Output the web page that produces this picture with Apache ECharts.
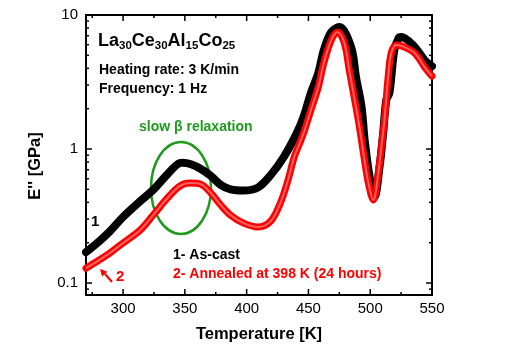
<!DOCTYPE html>
<html>
<head>
<meta charset="utf-8">
<script src="https://cdn.jsdelivr.net/npm/echarts@6/dist/echarts.min.js"></script>
<style>
  body { margin: 0; background: #fff; }
  #chart { width: 519px; height: 354px; }
</style>
</head>
<body>
<div id="chart"></div>
<script>
// 1- As-cast (black)
let tempAsCast = [270, 281, 289.5, 300, 314, 325, 336, 346, 348, 355, 363, 371, 379, 387, 397.5, 409, 419.5, 430, 440, 446, 452, 458, 462.5, 468.5, 475,
    484.5, 488.5, 493, 495.5, 499.5, 503.5, 507.5, 510.5, 513, 515.5, 519.5, 523, 525, 536, 544, 550];
let eAsCast = [0.170, 0.206, 0.244, 0.311, 0.409, 0.502, 0.650, 0.787, 0.79, 0.77, 0.71, 0.63, 0.54, 0.50, 0.49, 0.515, 0.64, 0.87, 1.28, 1.73, 2.62, 3.69, 5.48, 7.46, 8.13,
    5.77, 3.44, 2.06, 1.17, 0.62, 0.44, 0.73, 1.32, 2.32, 2.62, 5.48, 6.73, 6.85, 5.77, 4.61, 4.15];

// 2- Annealed at 398 K (red)
let tempAnnealed = [270, 281, 289.5, 300, 314, 325, 336, 346, 354.5, 362.5, 371, 379, 387, 397.5, 409, 419.5, 427.5, 433.5, 438.5, 444, 447, 452, 458, 462.5, 468.5, 473.5,
    479, 483, 487, 491, 495, 498.5, 502.5, 506.5, 509, 511.5, 514.5, 517, 521, 525.5, 536, 544, 550];
let eAnnealed = [0.129, 0.149, 0.168, 0.199, 0.249, 0.327, 0.431, 0.53, 0.557, 0.548, 0.47, 0.382, 0.321, 0.28, 0.262, 0.29, 0.40, 0.587, 0.87, 1.17, 1.39, 1.95, 2.90, 4.39, 6.5, 7.47,
    6.18, 3.89, 2.44, 1.51, 0.87, 0.557, 0.416, 0.66, 1.03, 1.64, 3.44, 5.2, 5.97, 5.87, 5.2, 4.09, 3.5];

let xMajor = [300, 350, 400, 450, 500, 550];
let xMinor = [275, 325, 375, 425, 475, 525];
let yMajor = [0.1, 1, 10];
let yMinor = [0.09, 0.2, 0.3, 0.4, 0.5, 0.6, 0.7, 0.8, 0.9, 2, 3, 4, 5, 6, 7, 8, 9];

let xMin = 270, xMax = 550, yMin = 0.0814, yMax = 10;

function pairs(xs, ys) {
    let out = [];
    for (let i = 0; i < xs.length; i++) out.push([xs[i], ys[i]]);
    return out;
}

// inward tick marks on all four sides, as small rect symbols placed on the axes
let tickData = [];
function addX(vals, len) {
    vals.forEach(function (v) {
        tickData.push({ value: [v, yMin], symbolSize: [1.5, len], symbolOffset: [0, -len / 2] });
        tickData.push({ value: [v, yMax], symbolSize: [1.5, len], symbolOffset: [0, len / 2] });
    });
}
function addY(vals, len) {
    vals.forEach(function (v) {
        tickData.push({ value: [xMin, v], symbolSize: [len, 1.5], symbolOffset: [len / 2, 0] });
        tickData.push({ value: [xMax, v], symbolSize: [len, 1.5], symbolOffset: [-len / 2, 0] });
    });
}
addX(xMajor, 6);
addX(xMinor, 3);
addY(yMajor, 6);
addY(yMinor, 3);

let font = 'Liberation Sans, Arial, sans-serif';

let option = {
    backgroundColor: '#fff',
    animation: false,
    grid: { left: 86, right: 87, top: 15, bottom: 59, show: true, borderColor: '#000', borderWidth: 2, backgroundColor: 'transparent' },
    xAxis: {
        type: 'value', min: xMin, max: xMax,
        axisLine: { show: true, onZero: false, lineStyle: { color: '#000', width: 2 } },
        axisTick: { show: false },
        axisLabel: { customValues: xMajor, color: '#000', fontSize: 15, fontFamily: font, margin: 6 },
        splitLine: { show: false },
        name: 'Temperature [K]', nameLocation: 'middle', nameGap: 31,
        nameTextStyle: { color: '#000', fontSize: 16.5, fontWeight: 'bold', fontFamily: font }
    },
    yAxis: {
        type: 'log', logBase: 10, min: yMin, max: yMax,
        axisLine: { show: true, onZero: false, lineStyle: { color: '#000', width: 2 } },
        axisTick: { show: false },
        axisLabel: { customValues: yMajor, color: '#000', fontSize: 15, fontFamily: font, margin: 8,
            formatter: function (v) { return String(Math.round(v * 10) / 10); } },
        splitLine: { show: false },
        name: "E'' [GPa]", nameLocation: 'middle', nameGap: 42, nameRotate: 90,
        nameTextStyle: { color: '#000', fontSize: 16.5, fontWeight: 'bold', fontFamily: font, padding: [0, 0, 0, -22] }
    },
    series: [
        {
            name: '1- As-cast', type: 'line', data: pairs(tempAsCast, eAsCast),
            smooth: 0.35, symbol: 'none',
            lineStyle: { color: '#000', width: 8, cap: 'round', join: 'round' }
        },
        {
            name: '2- Annealed at 398 K (24 hours)', type: 'line', data: pairs(tempAnnealed, eAnnealed),
            smooth: 0.35, symbol: 'none',
            lineStyle: { color: '#ff0000', width: 7, cap: 'round', join: 'round' }
        },
        {
            type: 'line', data: pairs(tempAnnealed, eAnnealed),
            smooth: 0.35, symbol: 'none', silent: true,
            lineStyle: { color: '#ff8c8c', width: 2, opacity: 0.7 }
        },
        {
            type: 'scatter', data: tickData, symbol: 'rect', clip: false, silent: true, z: 10,
            itemStyle: { color: '#000', borderWidth: 0, opacity: 1 }
        }
    ],
    graphic: [
        {
            type: 'text', left: 98, top: 32,
            style: {
                text: '{b|La}{s|30}{b|Ce}{s|30}{b|Al}{s|15}{b|Co}{s|25}',
                fill: '#000', fontFamily: font,
                rich: {
                    b: { fontSize: 18, fontWeight: 'bold', fontFamily: font, lineHeight: 22, verticalAlign: 'middle', fill: '#000' },
                    s: { fontSize: 11.5, fontWeight: 'bold', fontFamily: font, lineHeight: 22, verticalAlign: 'bottom', fill: '#000' }
                }
            }
        },
        { type: 'text', left: 99, top: 63, style: { text: 'Heating rate: 3 K/min', fill: '#000', font: 'bold 14px ' + font } },
        { type: 'text', left: 99, top: 82, style: { text: 'Frequency: 1 Hz', fill: '#000', font: 'bold 14px ' + font } },
        { type: 'text', left: 139, top: 120, style: { text: 'slow \u03b2 relaxation', fill: '#1f9a1f', font: 'bold 14px ' + font } },
        { type: 'ellipse', shape: { cx: 181, cy: 188, rx: 30, ry: 46 }, style: { fill: 'none', stroke: '#1f9a1f', lineWidth: 2.5 } },
        { type: 'text', left: 91, top: 214, style: { text: '1', fill: '#000', font: 'bold 15px ' + font } },
        { type: 'line', shape: { x1: 105, y1: 274, x2: 112, y2: 282 }, style: { stroke: '#ff0000', lineWidth: 2 } },
        { type: 'polygon', shape: { points: [[100, 269], [107.5, 271.8], [102, 276.6]] }, style: { fill: '#ff0000' } },
        { type: 'text', left: 116, top: 269, style: { text: '2', fill: '#ff0000', font: 'bold 15px ' + font } },
        { type: 'text', left: 173, top: 248, style: { text: '1- As-cast', fill: '#000', font: 'bold 14px ' + font } },
        { type: 'text', left: 173, top: 267, style: { text: '2- Annealed at 398 K (24 hours)', fill: '#ff0000', font: 'bold 14px ' + font } }
    ]
};

let chart = echarts.init(document.getElementById('chart'));
chart.setOption(option);
</script>
</body>
</html>
